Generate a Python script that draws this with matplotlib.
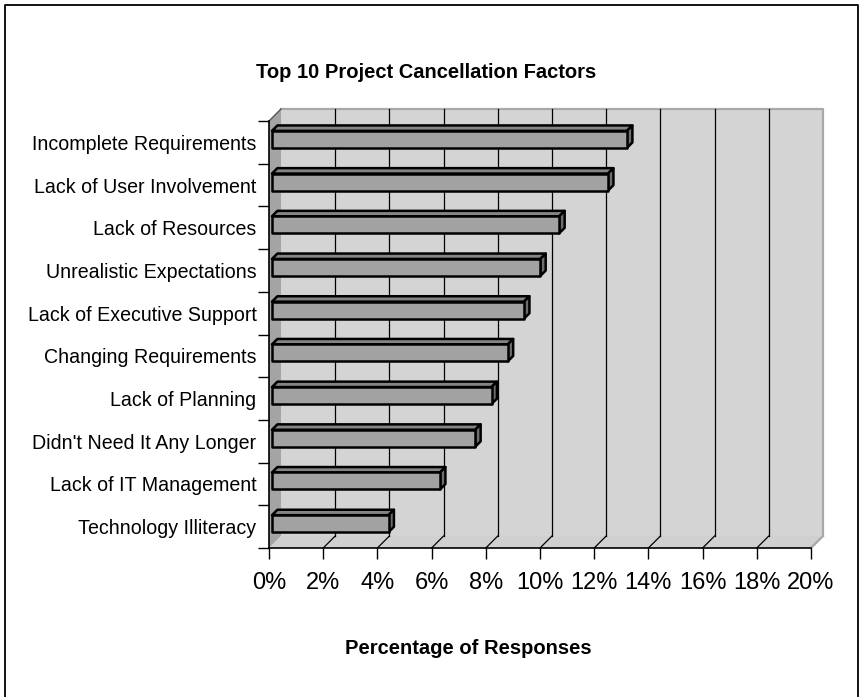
import matplotlib
matplotlib.use("Agg")
import matplotlib.pyplot as plt
from matplotlib.patches import Polygon, Rectangle
from matplotlib.lines import Line2D

plt.rcParams['font.family'] = ['Liberation Sans', 'DejaVu Sans']

factors = ["Incomplete Requirements", "Lack of User Involvement", "Lack of Resources",
           "Unrealistic Expectations", "Lack of Executive Support", "Changing Requirements",
           "Lack of Planning", "Didn't Need It Any Longer", "Lack of IT Management",
           "Technology Illiteracy"]
percent = [13.1, 12.4, 10.6, 9.9, 9.3, 8.7, 8.1, 7.5, 6.2, 4.3]
xticks = list(range(0, 21, 2))

W, H = 860, 697
fig = plt.figure(figsize=(W / 100, H / 100), dpi=100)

# front plane of the 3d box, in pixels
x0, x1, ytop, ybot = 269, 811, 121, 548
ax = fig.add_axes([x0 / W, 1 - ybot / H, (x1 - x0) / W, (ybot - ytop) / H])
ax.set_xlim(0, 20)
ax.set_ylim(10, 0)
ax.patch.set_visible(False)

# depth offset (12 px right, 12 px up) in data units
px_x = 20 / (x1 - x0)
px_y = 10 / (ybot - ytop)
DX = 12 * px_x
DY = -12 * px_y

wall = '#d4d4d4'
side = '#a4a4a4'

# back wall
ax.add_patch(Rectangle((DX, DY), 20, 10, facecolor=wall, edgecolor='none',
                       clip_on=False, zorder=0))
ax.add_line(Line2D([DX, 20 + DX, 20 + DX], [DY, DY, 10 + DY], color='#a8a8a8',
                   lw=1.6, clip_on=False, zorder=0.5))
# left wall
ax.add_patch(Polygon([(0, 0), (DX, DY), (DX, 10 + DY), (0, 10)], closed=True,
                     facecolor=side, edgecolor='none', clip_on=False, zorder=0.4))
ax.add_line(Line2D([0, DX], [0, DY], color='#555555', lw=1, clip_on=False, zorder=0.6))
# floor
ax.add_patch(Polygon([(0, 10), (20, 10), (20 + DX, 10 + DY), (DX, 10 + DY)], closed=True,
                     facecolor='#d0d0d0', edgecolor='none', clip_on=False, zorder=0.3))
ax.add_line(Line2D([20, 20 + DX], [10, 10 + DY], color='#a8a8a8', lw=1.6,
                   clip_on=False, zorder=0.5))

# gridlines on back wall and floor
for t in xticks[1:-1]:
    ax.add_line(Line2D([t + DX, t + DX], [DY, 10 + DY], color='black', lw=0.9,
                       clip_on=False, zorder=0.7))
    ax.add_line(Line2D([t, t + DX], [10, 10 + DY], color='black', lw=0.9,
                       clip_on=False, zorder=0.7))

# bars
t1, t2 = 0.25, 0.7
half = 8.5 * px_y
ddx = (t2 - t1) * DX
ddy = (t2 - t1) * DY
for i, v in enumerate(percent):
    bx0 = t1 * DX
    bx1 = v + t1 * DX
    yc = i + 0.5 + t1 * DY
    yt, yb = yc - half, yc + half
    top = [(bx0, yt), (bx1, yt), (bx1 + ddx, yt + ddy), (bx0 + ddx, yt + ddy)]
    right = [(bx1, yt), (bx1, yb), (bx1 + ddx, yb + ddy), (bx1 + ddx, yt + ddy)]
    ax.add_patch(Polygon(top, closed=True, facecolor='#858585', edgecolor='black',
                         lw=1.8, joinstyle='round', zorder=2))
    ax.add_patch(Polygon(right, closed=True, facecolor='#6e6e6e', edgecolor='black',
                         lw=1.8, joinstyle='round', zorder=2))
    ax.add_patch(Rectangle((bx0, yt), v, yb - yt, facecolor='#a2a2a2', edgecolor='black',
                           lw=1.8, joinstyle='round', zorder=3))

for s in ['top', 'right']:
    ax.spines[s].set_visible(False)
for s in ['left', 'bottom']:
    ax.spines[s].set_color('black')
    ax.spines[s].set_linewidth(1.2)
    ax.spines[s].set_zorder(4)

ax.set_xticks(xticks)
ax.set_xticklabels([f"{t}%" for t in xticks], fontsize=17)
ax.tick_params(axis='x', direction='out', length=8, width=1, pad=9)
ax.set_yticks(range(11))
ax.set_yticklabels([])
ax.tick_params(axis='y', which='major', direction='out', length=8, width=1)
ax.set_yticks([i + 0.5 for i in range(10)], minor=True)
ax.set_yticklabels(factors, minor=True, fontsize=14.1)
ax.tick_params(axis='y', which='minor', length=0, pad=9)

fig.text(426 / W, 1 - 73 / H, "Top 10 Project Cancellation Factors", ha='center',
         va='center', fontsize=14.5, fontweight='bold')
fig.text(468 / W, 1 - 648 / H, "Percentage of Responses", ha='center',
         va='center', fontsize=14.5, fontweight='bold')

# chart border
fig.add_artist(Line2D([4.5 / W, 4.5 / W, 857.5 / W, 857.5 / W],
                      [0, 1 - 4.5 / H, 1 - 4.5 / H, 0], color='black', lw=1.3))

fig.savefig("out.png", dpi=100)
